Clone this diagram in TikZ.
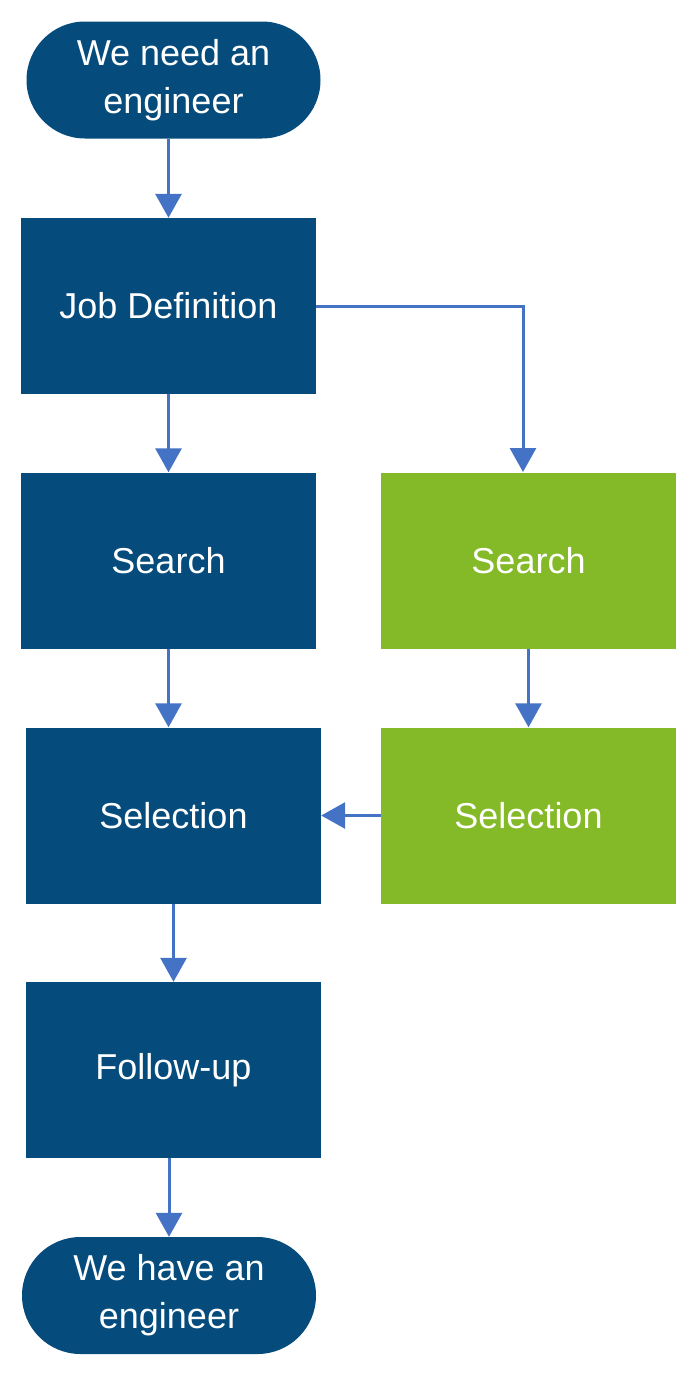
\documentclass[tikz,border=0pt]{standalone}
\usepackage{fontspec}
\setmainfont{Liberation Sans}
\usetikzlibrary{arrows.meta,shapes.misc}
\definecolor{dblue}{HTML}{054B7C}
\definecolor{lgreen}{HTML}{84BA27}
\definecolor{arr}{HTML}{4472C4}
\begin{document}
\begin{tikzpicture}[x=1pt,y=-1pt,
  box/.style={rectangle,fill=dblue,text=white,minimum width=295pt,minimum height=176pt,inner sep=0pt,font=\fontsize{36}{48}\selectfont,align=center},
  gbox/.style={box,fill=lgreen},
  term/.style={rounded rectangle,fill=dblue,text=white,minimum width=294pt,minimum height=117pt,inner sep=0pt,font=\fontsize{36}{48}\selectfont,align=center},
  con/.style={draw=arr,line width=3pt,-{Triangle[width=26pt,length=24pt]}}]
\useasboundingbox (0,0) rectangle (697,1384);
\node[term] (start) at (173.5,80) {We need an\\engineer};
\node[box] (job) at (168.5,306) {Job Definition};
\node[box] (s1) at (168.5,560.5) {Search};
\node[gbox] (s2) at (528.5,560.5) {Search};
\node[box] (sel1) at (173.5,815.5) {Selection};
\node[gbox] (sel2) at (528.5,815.5) {Selection};
\node[box] (fu) at (173.5,1070) {Follow-up};
\node[term] (end) at (169,1295.5) {We have an\\engineer};
\draw[con] (job.north |- start.south) -- (job.north);
\draw[con] (job.east) -| (523,472);
\draw[con] (job.south) -- (s1.north);
\draw[con] (s1.south) -- (s1.south |- sel1.north);
\draw[con] (s2.south) -- (sel2.north);
\draw[con] (sel2.west) -- (sel1.east);
\draw[con] (sel1.south) -- (fu.north);
\draw[con] (end.north |- fu.south) -- (end.north);
\end{tikzpicture}
\end{document}
